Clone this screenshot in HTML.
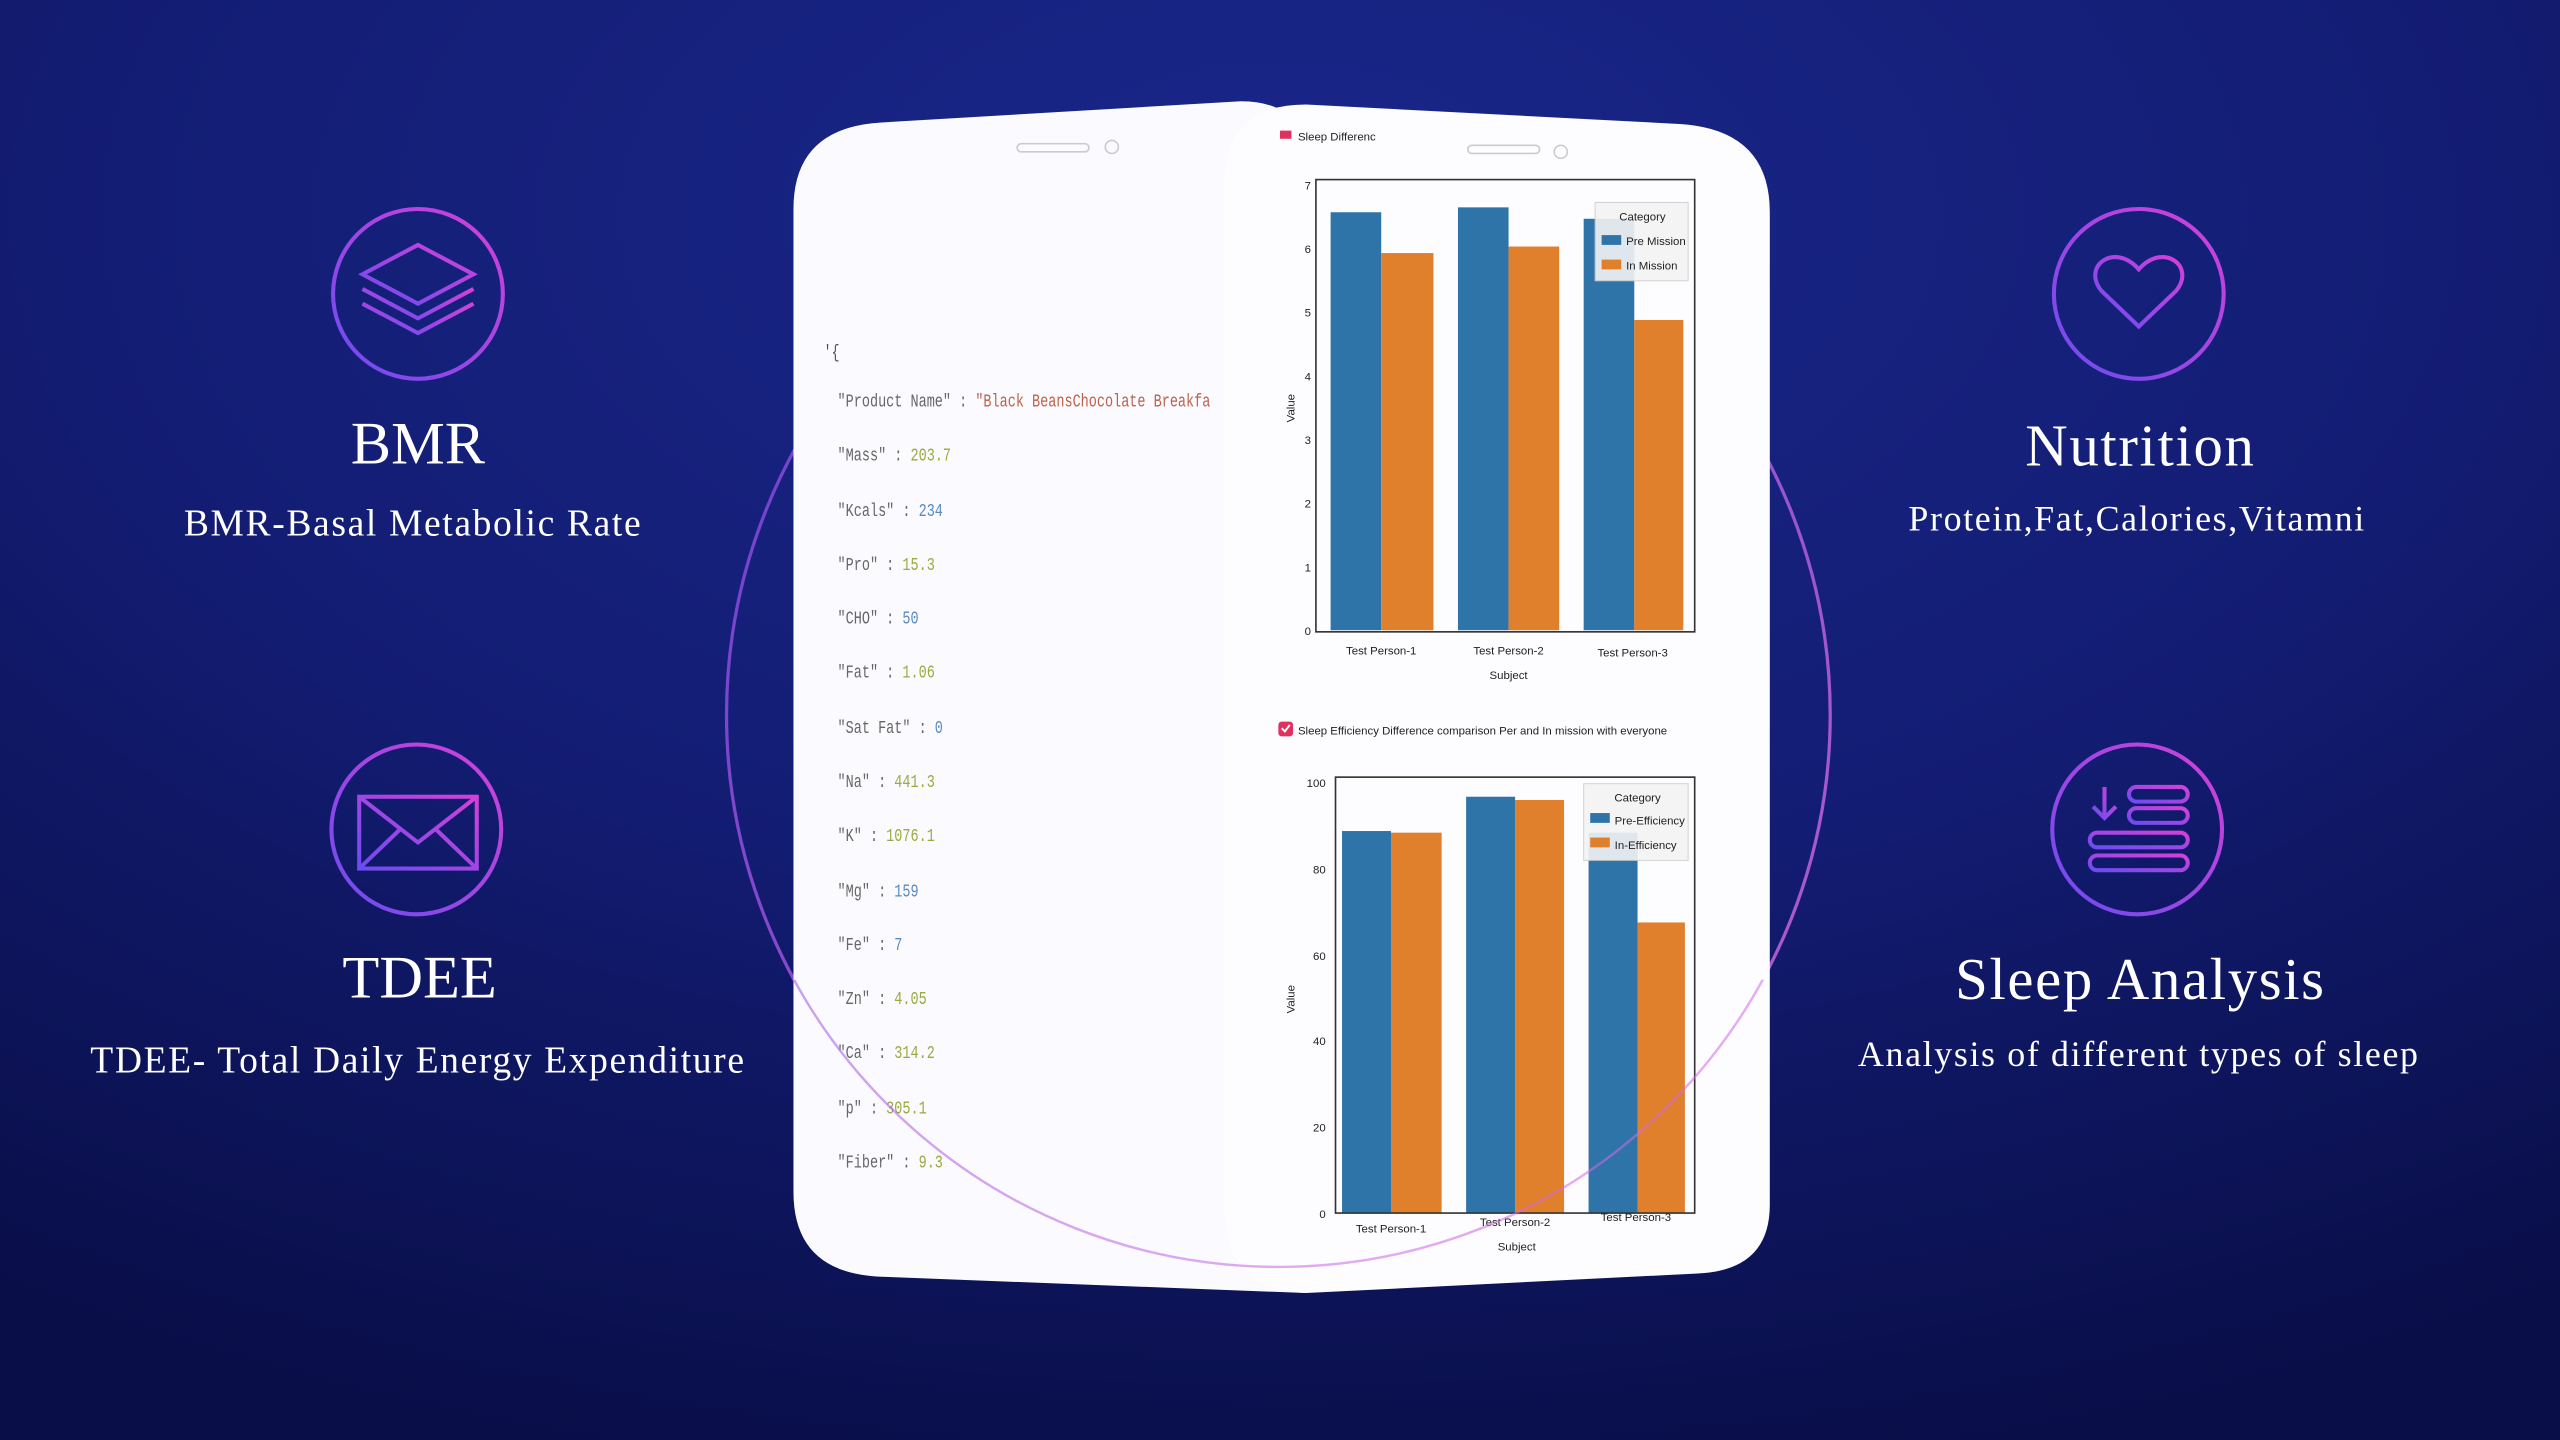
<!DOCTYPE html>
<html><head><meta charset="utf-8"><style>
html,body{margin:0;padding:0;width:2560px;height:1440px;overflow:hidden;background:#0d1560}
svg{display:block}
.t{font-family:"Liberation Serif",serif;fill:#fff;text-anchor:middle}
.m{font-family:"Liberation Mono",monospace;font-size:11.5px}
.a{font-family:"Liberation Sans",sans-serif;font-size:7px;fill:#222}
</style></head><body>
<svg width="2560" height="1440" viewBox="0 0 1568 882" xmlns="http://www.w3.org/2000/svg">
<defs>
<radialGradient id="bg" cx="0.5" cy="0.15" r="0.9">
<stop offset="0" stop-color="#1a278a"/><stop offset="0.5" stop-color="#131d74"/><stop offset="1" stop-color="#090e48"/>
</radialGradient>
<linearGradient id="ig" x1="0" y1="1" x2="1" y2="0">
<stop offset="0" stop-color="#6a4cf0"/><stop offset="1" stop-color="#d540d8"/>
</linearGradient>
<linearGradient id="cg" x1="0" y1="0" x2="1" y2="1">
<stop offset="0" stop-color="#7b45e0"/><stop offset="1" stop-color="#e070e8"/>
</linearGradient>
<clipPath id="low"><rect x="0" y="600" width="1568" height="300"/></clipPath>
</defs>
<rect width="1568" height="882" fill="url(#bg)"/>
<circle cx="783" cy="438" r="338" fill="none" stroke="url(#cg)" stroke-width="2" opacity="0.8"/>

<g fill="none" stroke="url(#ig)" stroke-width="2.5">
<circle cx="256" cy="180" r="52"/>
<path d="M222 168 L256 150 L290 168 L256 186 Z"/>
<path d="M222 177 L256 195 L290 177"/><path d="M222 186 L256 204 L290 186"/>
<circle cx="255" cy="508" r="52"/>
<rect x="220" y="488" width="72" height="44"/><path d="M220 488 L256 516 L292 488 M220 532 L245 508 M292 532 L267 508"/>
<circle cx="1310" cy="180" r="52"/>
<path d="M1310 200 L1287 178 C1275 163 1295 148 1310 165 C1325 148 1345 163 1333 178 Z"/>
<circle cx="1309" cy="508" r="52"/>
<path d="M1289 482 v18 M1282 494 l7 7 l7 -7"/>
<rect x="1304" y="482" width="36" height="9" rx="4.5"/><rect x="1304" y="495" width="36" height="9" rx="4.5"/>
<rect x="1280" y="510" width="60" height="9" rx="4.5"/><rect x="1280" y="524" width="60" height="9" rx="4.5"/>
</g>
<text class="t" x="256" y="284" font-size="37">BMR</text>
<text class="t" x="253" y="328" font-size="23" letter-spacing="1">BMR-Basal Metabolic Rate</text>
<text class="t" x="257" y="611" font-size="37">TDEE</text>
<text class="t" x="256" y="657" font-size="23" letter-spacing="1">TDEE- Total Daily Energy Expenditure</text>
<text class="t" x="1311" y="285" font-size="36" letter-spacing="1">Nutrition</text>
<text class="t" x="1309" y="325" font-size="22" letter-spacing="1">Protein,Fat,Calories,Vitamni</text>
<text class="t" x="1311" y="612" font-size="36" letter-spacing="1">Sleep Analysis</text>
<text class="t" x="1310" y="653" font-size="22" letter-spacing="1">Analysis of different types of sleep</text>

<path d="M540 75 L760 62 Q800 62 800 100 L800 792 L540 782 Q486 780 486 730 L486 128 Q486 78 540 75 Z" fill="#fbfbff"/>
<rect x="623" y="88" width="44" height="5" rx="2.5" fill="none" stroke="#ccc"/>
<circle cx="681" cy="90" r="4" fill="none" stroke="#ccc"/>
<g class="m" transform="translate(513 0) scale(0.72 1) translate(-513 0)">
<text x="501" y="219" fill="#555">'{</text>
<text x="513" y="249" fill="#666">"Product Name" : <tspan fill="#c0604a">"Black BeansChocolate Breakfa</tspan></text>
<text x="513" y="282" fill="#666">"Mass" : <tspan fill="#9aaa40">203.7</tspan></text>
<text x="513" y="316" fill="#666">"Kcals" : <tspan fill="#5a8ac0">234</tspan></text>
<text x="513" y="349" fill="#666">"Pro" : <tspan fill="#9aaa40">15.3</tspan></text>
<text x="513" y="382" fill="#666">"CHO" : <tspan fill="#5a8ac0">50</tspan></text>
<text x="513" y="415" fill="#666">"Fat" : <tspan fill="#9aaa40">1.06</tspan></text>
<text x="513" y="449" fill="#666">"Sat Fat" : <tspan fill="#5a8ac0">0</tspan></text>
<text x="513" y="482" fill="#666">"Na" : <tspan fill="#9aaa40">441.3</tspan></text>
<text x="513" y="515" fill="#666">"K" : <tspan fill="#9aaa40">1076.1</tspan></text>
<text x="513" y="549" fill="#666">"Mg" : <tspan fill="#5a8ac0">159</tspan></text>
<text x="513" y="582" fill="#666">"Fe" : <tspan fill="#5a8ac0">7</tspan></text>
<text x="513" y="615" fill="#666">"Zn" : <tspan fill="#9aaa40">4.05</tspan></text>
<text x="513" y="648" fill="#666">"Ca" : <tspan fill="#9aaa40">314.2</tspan></text>
<text x="513" y="682" fill="#666">"p" : <tspan fill="#9aaa40">305.1</tspan></text>
<text x="513" y="715" fill="#666">"Fiber" : <tspan fill="#9aaa40">9.3</tspan></text>
</g>

<path d="M800 64 L1030 76 Q1084 80 1084 130 L1084 738 Q1084 778 1040 780 L800 792 Q750 790 750 740 L750 112 Q750 64 800 64 Z" fill="#fdfdff"/>
<rect x="899" y="89" width="44" height="5" rx="2.5" fill="none" stroke="#ccc"/>
<circle cx="956" cy="93" r="4" fill="none" stroke="#ccc"/>
<rect x="784" y="80" width="7" height="5" fill="#e03060"/>
<text class="a" x="795" y="86" font-size="5.5" fill="#666">Sleep Differenc</text>

<g>
<rect x="815" y="130" width="31" height="256" fill="#2e74a8"/>
<rect x="846" y="155" width="32" height="231" fill="#e07f2c"/>
<rect x="893" y="127" width="31" height="259" fill="#2e74a8"/>
<rect x="924" y="151" width="31" height="235" fill="#e07f2c"/>
<rect x="970" y="134" width="31" height="252" fill="#2e74a8"/>
<rect x="1001" y="196" width="30" height="190" fill="#e07f2c"/>
<rect x="806" y="110" width="232" height="277" fill="none" stroke="#333" stroke-width="1"/>
<g class="a" text-anchor="end">
<text x="803" y="389">0</text><text x="803" y="350">1</text><text x="803" y="311">2</text><text x="803" y="272">3</text>
<text x="803" y="233">4</text><text x="803" y="194">5</text><text x="803" y="155">6</text><text x="803" y="116">7</text>
</g>
<g class="a" text-anchor="middle">
<text x="846" y="401">Test Person-1</text><text x="924" y="401">Test Person-2</text><text x="1000" y="402">Test Person-3</text>
<text x="924" y="416">Subject</text>
</g>
<text class="a" transform="translate(793 250) rotate(-90)" text-anchor="middle">Value</text>
<rect x="977" y="124" width="57" height="48" fill="#f4f4f4" stroke="#ccc" stroke-width="0.6" opacity="0.9"/>
<text class="a" x="1006" y="135" text-anchor="middle">Category</text>
<rect x="981" y="144" width="12" height="6" fill="#2e74a8"/><text class="a" x="996" y="150" font-size="6.5">Pre Mission</text>
<rect x="981" y="159" width="12" height="6" fill="#e07f2c"/><text class="a" x="996" y="165" font-size="6.5">In Mission</text>
</g>

<rect x="783" y="442" width="9" height="9" rx="2" fill="#e03060"/>
<path d="M785 446 l2 2 l3 -4" stroke="#fff" stroke-width="1.2" fill="none"/>
<text class="a" x="795" y="450" font-size="5.6" fill="#555">Sleep Efficiency Difference comparison Per and In mission with everyone</text>

<g>
<rect x="822" y="509" width="30" height="234" fill="#2e74a8"/>
<rect x="852" y="510" width="31" height="233" fill="#e07f2c"/>
<rect x="898" y="488" width="30" height="255" fill="#2e74a8"/>
<rect x="928" y="490" width="30" height="253" fill="#e07f2c"/>
<rect x="973" y="510" width="30" height="233" fill="#2e74a8"/>
<rect x="1003" y="565" width="29" height="178" fill="#e07f2c"/>
<rect x="818" y="476" width="220" height="267" fill="none" stroke="#333" stroke-width="1"/>
<g class="a" text-anchor="end">
<text x="812" y="746">0</text><text x="812" y="693">20</text><text x="812" y="640">40</text>
<text x="812" y="588">60</text><text x="812" y="535">80</text><text x="812" y="482">100</text>
</g>
<g class="a" text-anchor="middle">
<text x="852" y="755">Test Person-1</text><text x="928" y="751">Test Person-2</text><text x="1002" y="748">Test Person-3</text>
<text x="929" y="766">Subject</text>
</g>
<text class="a" transform="translate(793 612) rotate(-90)" text-anchor="middle">Value</text>
<rect x="970" y="480" width="64" height="47" fill="#f4f4f4" stroke="#ccc" stroke-width="0.6" opacity="0.9"/>
<text class="a" x="1003" y="491" text-anchor="middle">Category</text>
<rect x="974" y="498" width="12" height="6" fill="#2e74a8"/><text class="a" x="989" y="505" font-size="6.5">Pre-Efficiency</text>
<rect x="974" y="513" width="12" height="6" fill="#e07f2c"/><text class="a" x="989" y="520" font-size="6.5">In-Efficiency</text>
</g>

<circle cx="783" cy="438" r="338" fill="none" stroke="url(#cg)" stroke-width="1.5" opacity="0.55" clip-path="url(#low)"/>
</svg>
</body></html>
